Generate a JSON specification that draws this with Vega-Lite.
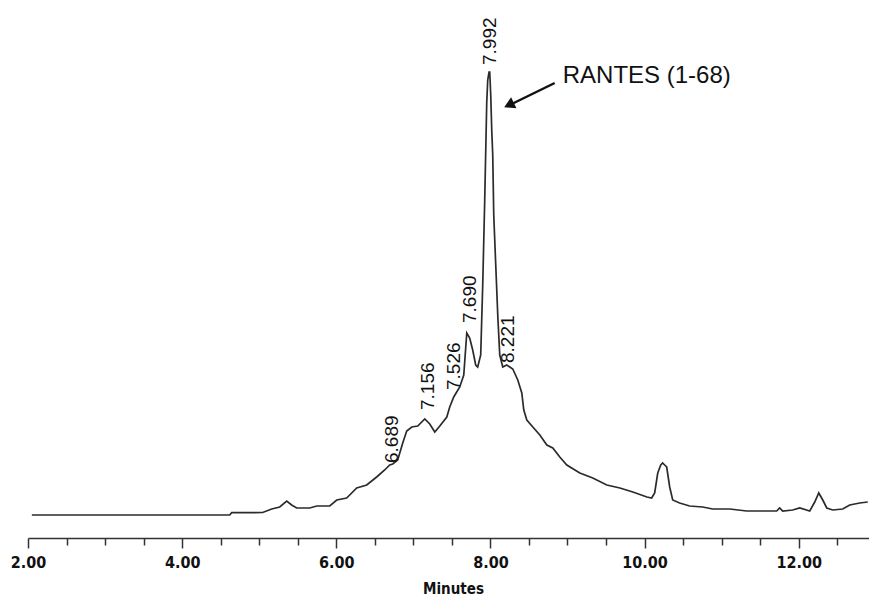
{
  "$schema": "https://vega.github.io/schema/vega-lite/v6.json",
  "autosize": "none",
  "width": 841,
  "height": 538,
  "padding": {"left": 28, "top": 0, "right": 0, "bottom": 59},
  "background": "white",
  "config": {"view": {"stroke": null}},
  "datasets": {
    "trace": [
      {"t": 2.05, "s": 0}, {"t": 3.0, "s": 0}, {"t": 4.0, "s": 0}, {"t": 4.617, "s": 0},
      {"t": 4.643, "s": 2.3}, {"t": 5.045, "s": 2.5}, {"t": 5.162, "s": 6}, {"t": 5.266, "s": 8},
      {"t": 5.357, "s": 14}, {"t": 5.421, "s": 10}, {"t": 5.486, "s": 7}, {"t": 5.655, "s": 7},
      {"t": 5.746, "s": 9}, {"t": 5.915, "s": 9}, {"t": 6.006, "s": 15}, {"t": 6.135, "s": 17},
      {"t": 6.265, "s": 27}, {"t": 6.395, "s": 30}, {"t": 6.524, "s": 38}, {"t": 6.628, "s": 45},
      {"t": 6.693, "s": 50}, {"t": 6.732, "s": 51}, {"t": 6.797, "s": 55}, {"t": 6.862, "s": 72},
      {"t": 6.914, "s": 84}, {"t": 6.979, "s": 88}, {"t": 7.057, "s": 89}, {"t": 7.148, "s": 96},
      {"t": 7.213, "s": 91}, {"t": 7.278, "s": 83}, {"t": 7.343, "s": 89}, {"t": 7.434, "s": 98},
      {"t": 7.472, "s": 108}, {"t": 7.524, "s": 118}, {"t": 7.602, "s": 128}, {"t": 7.654, "s": 140},
      {"t": 7.693, "s": 182}, {"t": 7.731, "s": 177}, {"t": 7.77, "s": 165}, {"t": 7.809, "s": 150},
      {"t": 7.835, "s": 148}, {"t": 7.874, "s": 160}, {"t": 7.9, "s": 230}, {"t": 7.926, "s": 315},
      {"t": 7.952, "s": 412}, {"t": 7.965, "s": 435}, {"t": 7.982, "s": 443}, {"t": 7.991, "s": 443},
      {"t": 8.004, "s": 420}, {"t": 8.017, "s": 385}, {"t": 8.03, "s": 360}, {"t": 8.043, "s": 300},
      {"t": 8.069, "s": 250}, {"t": 8.095, "s": 200}, {"t": 8.121, "s": 160}, {"t": 8.16, "s": 148},
      {"t": 8.212, "s": 150}, {"t": 8.251, "s": 148}, {"t": 8.29, "s": 146}, {"t": 8.355, "s": 135},
      {"t": 8.407, "s": 122}, {"t": 8.433, "s": 105}, {"t": 8.472, "s": 95}, {"t": 8.55, "s": 88},
      {"t": 8.641, "s": 80}, {"t": 8.732, "s": 70}, {"t": 8.809, "s": 67}, {"t": 8.9, "s": 58},
      {"t": 8.991, "s": 50}, {"t": 9.16, "s": 42}, {"t": 9.328, "s": 37}, {"t": 9.51, "s": 30},
      {"t": 9.68, "s": 27}, {"t": 9.848, "s": 23}, {"t": 10.03, "s": 18}, {"t": 10.092, "s": 17},
      {"t": 10.131, "s": 22}, {"t": 10.171, "s": 42}, {"t": 10.21, "s": 50}, {"t": 10.235, "s": 52},
      {"t": 10.261, "s": 50}, {"t": 10.287, "s": 48}, {"t": 10.326, "s": 28}, {"t": 10.365, "s": 15},
      {"t": 10.455, "s": 12}, {"t": 10.585, "s": 9}, {"t": 10.754, "s": 8}, {"t": 10.884, "s": 6},
      {"t": 11.104, "s": 6}, {"t": 11.325, "s": 4}, {"t": 11.533, "s": 4}, {"t": 11.714, "s": 4},
      {"t": 11.753, "s": 7}, {"t": 11.792, "s": 4}, {"t": 11.922, "s": 5}, {"t": 12.013, "s": 7},
      {"t": 12.143, "s": 4}, {"t": 12.208, "s": 13}, {"t": 12.26, "s": 22}, {"t": 12.312, "s": 15},
      {"t": 12.364, "s": 7}, {"t": 12.441, "s": 5}, {"t": 12.571, "s": 6}, {"t": 12.662, "s": 10},
      {"t": 12.792, "s": 12}, {"t": 12.896, "s": 13}
    ],
    "peaks": [
      {"t": 6.72, "ly": 52, "label": "6.689"},
      {"t": 7.19, "ly": 105, "label": "7.156"},
      {"t": 7.526, "ly": 125, "label": "7.526"},
      {"t": 7.73, "ly": 192, "label": "7.690"},
      {"t": 7.997, "ly": 450, "label": "7.992"},
      {"t": 8.23, "ly": 152, "label": "8.221"}
    ],
    "note": [{"t": 8.938, "s": 432, "label": "RANTES (1-68)"}],
    "arrow": [{"t": 8.834, "s": 432, "t2": 8.25, "s2": 410}],
    "head": [{"t": 8.241, "s": 410}]
  },
  "resolve": {"axis": {"x": "independent"}},
  "layer": [
    {
      "data": {"name": "trace"},
      "mark": {"type": "line", "color": "#2b2b2b", "strokeWidth": 1.7, "interpolate": "linear"},
      "encoding": {
        "x": {"field": "t", "type": "quantitative",
          "scale": {"domain": [2, 12.912], "nice": false, "zero": false},
          "axis": {
            "orient": "bottom",
            "values": [2, 4, 6, 8, 10, 12],
            "format": ".2f",
            "grid": false,
            "domainColor": "#333", "domainWidth": 1.5,
            "tickColor": "#333", "tickWidth": 1.5, "tickSize": 10,
            "labelFont": "Liberation Sans Narrow, DejaVu Sans Condensed, Liberation Sans",
            "labelFontWeight": "bold", "labelFontSize": 16, "labelColor": "#111",
            "labelPadding": 6, "labelFlush": false,
            "title": "Minutes",
            "titleFont": "Liberation Sans Narrow, DejaVu Sans Condensed, Liberation Sans",
            "titleFontWeight": "bold", "titleFontSize": 15, "titleColor": "#111",
            "titleX": 425, "titleY": 50, "titleBaseline": "middle", "titleAlign": "center"
          }
        },
        "y": {"field": "s", "type": "quantitative",
          "scale": {"domain": [-23, 515], "nice": false, "zero": false},
          "axis": null}
      }
    },
    {
      "data": {"name": "peaks"},
      "mark": {"type": "text", "angle": 270, "align": "left", "baseline": "middle",
        "font": "Liberation Sans, Arial", "fontSize": 19, "color": "#111"},
      "encoding": {
        "x": {"field": "t", "type": "quantitative", "axis": null},
        "y": {"field": "ly", "type": "quantitative", "axis": null},
        "text": {"field": "label"}
      }
    },
    {
      "data": {"name": "note"},
      "mark": {"type": "text", "align": "left", "baseline": "alphabetic",
        "font": "Liberation Sans, Arial", "fontSize": 24, "color": "#111"},
      "encoding": {
        "x": {"field": "t", "type": "quantitative", "axis": null},
        "y": {"field": "s", "type": "quantitative", "axis": null},
        "text": {"field": "label"}
      }
    },
    {
      "data": {"name": "arrow"},
      "mark": {"type": "rule", "color": "#111", "strokeWidth": 2.5},
      "encoding": {
        "x": {"field": "t", "type": "quantitative",
          "axis": {
            "orient": "bottom",
            "values": [2.5, 3, 3.5, 4.5, 5, 5.5, 6.5, 7, 7.5, 8.5, 9, 9.5, 10.5, 11, 11.5, 12.5],
            "labels": false, "domain": false, "grid": false, "title": null,
            "tickColor": "#333", "tickWidth": 1.5, "tickSize": 7
          }
        },
        "y": {"field": "s", "type": "quantitative", "axis": null},
        "x2": {"field": "t2"},
        "y2": {"field": "s2"}
      }
    },
    {
      "data": {"name": "head"},
      "mark": {"type": "point", "shape": "triangle-up", "filled": true, "color": "#111",
        "opacity": 1, "size": 150, "angle": 244},
      "encoding": {
        "x": {"field": "t", "type": "quantitative", "axis": null},
        "y": {"field": "s", "type": "quantitative", "axis": null}
      }
    }
  ]
}
